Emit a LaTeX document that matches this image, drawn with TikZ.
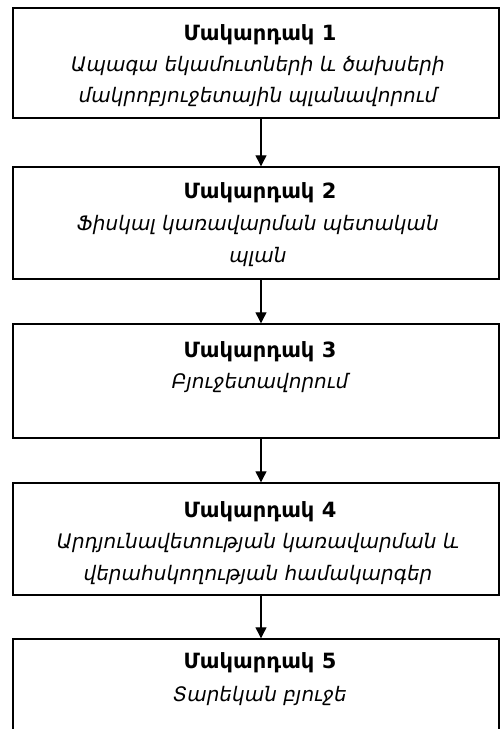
\documentclass[tikz,border=0pt]{standalone}
\usepackage{fontspec}
\setmainfont{DejaVu Sans}
\usetikzlibrary{arrows.meta,calc}
\tikzset{
  levelbox/.style={draw=black, line width=1.4pt, fill=white, inner sep=0pt},
  titletext/.style={font=\fontsize{21}{24}\selectfont\bfseries, inner sep=0pt},
  bodytext/.style={font=\fontsize{20}{24}\selectfont\itshape, inner sep=0pt},
  flow/.style={line width=1.2pt, -{Triangle[length=11pt,width=11pt]}}
}
\begin{document}
\begin{tikzpicture}[x=1pt,y=-1pt]
  \useasboundingbox (0,0) rectangle (500,729);
  \begin{scope}
    \clip (0,0) rectangle (500,729);
    % level boxes
    \node[levelbox, minimum width=486pt, minimum height=110pt] (b1) at (256,63) {};
    \node[levelbox, minimum width=486pt, minimum height=112pt] (b2) at (256,223) {};
    \node[levelbox, minimum width=486pt, minimum height=114pt] (b3) at (256,381) {};
    \node[levelbox, minimum width=486pt, minimum height=112pt] (b4) at (256,539) {};
    \node[levelbox, minimum width=486pt, minimum height=130pt] (b5) at (256,704) {};
  \end{scope}

  % texts
  \node[titletext] (t1) at (260,35) {Մակարդակ 1};
  \node[bodytext] (s1a) at (258,66) {Ապագա եկամուտների և ծախսերի};
  \node[bodytext] (s1b) at (258,97) {մակրոբյուջետային պլանավորում};

  \node[titletext] (t2) at (260,193) {Մակարդակ 2};
  \node[bodytext] (s2a) at (258,225) {Ֆիսկալ կառավարման պետական};
  \node[bodytext] (s2b) at (258,257) {պլան};

  \node[titletext] (t3) at (260,352) {Մակարդակ 3};
  \node[bodytext] (s3a) at (260,383) {Բյուջետավորում};

  \node[titletext] (t4) at (260,512) {Մակարդակ 4};
  \node[bodytext] (s4a) at (258,543) {Արդյունավետության կառավարման և};
  \node[bodytext] (s4b) at (258,575) {վերահսկողության համակարգեր};

  \node[titletext] (t5) at (260,663) {Մակարդակ 5};
  \node[bodytext] (s5a) at (260,696) {Տարեկան բյուջե};

  % connectors
  \coordinate (ax) at (261,0);
  \draw[flow] (b1.south -| ax) -- (b2.north -| ax);
  \draw[flow] (b2.south -| ax) -- (b3.north -| ax);
  \draw[flow] (b3.south -| ax) -- (b4.north -| ax);
  \draw[flow] (b4.south -| ax) -- (b5.north -| ax);
\end{tikzpicture}
\end{document}
